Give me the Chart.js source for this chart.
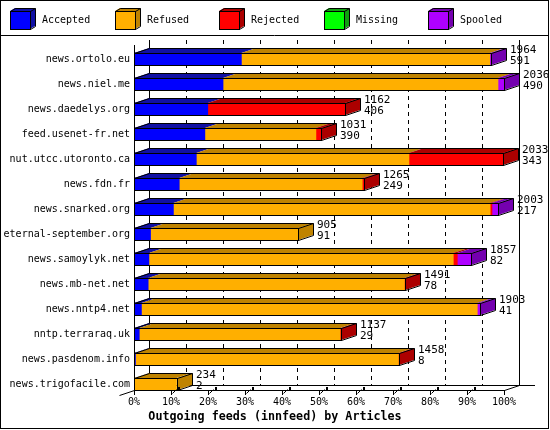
<!DOCTYPE html>
<html>
<head>
<meta charset="utf-8">
<title>Outgoing feeds (innfeed) by Articles</title>
<script src="https://cdn.jsdelivr.net/npm/chart.js@4/dist/chart.umd.min.js"></script>
<style>
  body { margin: 0; background: #fff; }
  canvas { display: block; }
</style>
</head>
<body>
<canvas id="feedChart" width="550" height="430"></canvas>
<script>
/* innfeed outgoing feeds, 3D stacked bars */

// Hosts, top to bottom
const hosts = [
  "news.ortolo.eu", "news.niel.me", "news.daedelys.org", "feed.usenet-fr.net",
  "nut.utcc.utoronto.ca", "news.fdn.fr", "news.snarked.org", "eternal-september.org",
  "news.samoylyk.net", "news.mb-net.net", "news.nntp4.net", "nntp.terraraq.uk",
  "news.pasdenom.info", "news.trigofacile.com"
];

// Articles per host (the two numbers printed next to each bar)
const totals   = [1964, 2036, 1162, 1031, 2033, 1265, 2003, 905, 1857, 1491, 1903, 1137, 1458, 234];
const accepted = [591, 490, 406, 390, 343, 249, 217, 91, 82, 78, 41, 29, 8, 2];

// Remaining segments
const refused  = [1367, 1513, 0, 611, 1170, 1007, 1743, 814, 1675, 1410, 1848, 1105, 1447, 232];
const rejected = [0, 0, 756, 30, 520, 9, 10, 0, 22, 3, 0, 3, 3, 0];
const missing  = [0, 0, 0, 0, 0, 0, 0, 0, 0, 0, 0, 0, 0, 0];
const spooled  = [6, 33, 0, 0, 0, 0, 33, 0, 78, 0, 14, 0, 0, 0];

const seriesNames = ["Accepted", "Refused", "Rejected", "Missing", "Spooled"];
const frontColors = ["#0000FF", "#FFAF00", "#FF0000", "#00FF00", "#AF00FF"];
const sideColors  = ["#1010A4", "#BF8300", "#AC0000", "#10A010", "#7400AF"];

const percentTicks = [0, 10, 20, 30, 40, 50, 60, 70, 80, 90, 100];

const FONT = '"DejaVu Sans Mono", "Liberation Mono", monospace';
const DX = 15;      // depth of the 3D effect
const DY = 5;
const BAR_H = 12;

// bars are scaled against the busiest host
const maxTotal = Math.max(...totals);
const toPercent = (arr) => arr.map((v) => (v ? (v / maxTotal) * 100 : null));

const series = [accepted, refused, rejected, missing, spooled];
const datasets = series.map((arr, i) => ({
  label: seriesNames[i],
  data: toPercent(arr),
  backgroundColor: frontColors[i],
  sideColor: sideColors[i],
  borderWidth: 0,
  barThickness: BAR_H,
}));

function hline(ctx, x0, x1, y) {
  ctx.beginPath();
  ctx.moveTo(x0, Math.round(y) + 0.5);
  ctx.lineTo(x1, Math.round(y) + 0.5);
  ctx.stroke();
}

function vline(ctx, x, y0, y1) {
  ctx.beginPath();
  ctx.moveTo(Math.round(x) + 0.5, y0);
  ctx.lineTo(Math.round(x) + 0.5, y1);
  ctx.stroke();
}

// Back wall, dashed grid and floor, drawn under the bars
const wallPlugin = {
  id: "wall",
  beforeDatasetsDraw(chart) {
    const ctx = chart.ctx;
    const xs = chart.scales.x;
    const ys = chart.scales.y;
    const area = chart.chartArea;
    const floorY = ys.getPixelForValue(hosts.length - 1) + BAR_H / 2;
    const topY = ys.getPixelForValue(0) - BAR_H / 2 - 8;

    ctx.save();
    ctx.strokeStyle = "#000";
    ctx.lineWidth = 1;

    // dashed grid on the back wall
    ctx.setLineDash([4, 4]);
    percentTicks.slice(1, -1).forEach((t) => {
      vline(ctx, xs.getPixelForValue(t) + DX, topY - DY, floorY - DY);
    });
    ctx.setLineDash([]);

    vline(ctx, area.left + DX, topY - DY, floorY - DY);
    vline(ctx, area.right + DX, topY - DY, floorY - DY);
    hline(ctx, area.left + DX, area.right + DX + 16, floorY - DY);
    ctx.restore();
  },

  afterDatasetsDraw(chart) {
    const ctx = chart.ctx;
    const xs = chart.scales.x;
    const ys = chart.scales.y;
    const area = chart.chartArea;
    const floorY = ys.getPixelForValue(hosts.length - 1) + BAR_H / 2;
    const topY = ys.getPixelForValue(0) - BAR_H / 2 - 8;

    ctx.save();
    ctx.strokeStyle = "#000";
    ctx.lineWidth = 1;

    // 3D faces for every bar
    hosts.forEach((host, i) => {
      const segs = [];
      chart.data.datasets.forEach((ds, d) => {
        const el = chart.getDatasetMeta(d).data[i];
        if (!el || ds.data[i] === null) return;
        const p = el.getProps(["x", "y", "base"], true);
        segs.push({ x0: p.base, x1: p.x, y: p.y, side: ds.sideColor });
      });
      if (!segs.length) return;

      const L = Math.round(segs[0].x0);
      const R = Math.round(segs[segs.length - 1].x1);
      const T = Math.round(segs[0].y - BAR_H / 2);
      const B = T + BAR_H;

      // top faces
      segs.forEach((s) => {
        ctx.fillStyle = s.side;
        ctx.beginPath();
        ctx.moveTo(s.x0, T);
        ctx.lineTo(s.x1, T);
        ctx.lineTo(s.x1 + DX, T - DY);
        ctx.lineTo(s.x0 + DX, T - DY);
        ctx.closePath();
        ctx.fill();
      });

      // side face takes the colour of the last segment
      ctx.fillStyle = segs[segs.length - 1].side;
      ctx.beginPath();
      ctx.moveTo(R, T);
      ctx.lineTo(R + DX, T - DY);
      ctx.lineTo(R + DX, B - DY);
      ctx.lineTo(R, B);
      ctx.closePath();
      ctx.fill();

      // outline
      ctx.strokeRect(L + 0.5, T + 0.5, R - L, B - T);
      ctx.beginPath();
      ctx.moveTo(L + 0.5, T + 0.5);
      ctx.lineTo(L + DX + 0.5, T - DY + 0.5);
      ctx.lineTo(R + DX + 0.5, T - DY + 0.5);
      ctx.lineTo(R + DX + 0.5, B - DY + 0.5);
      ctx.lineTo(R + 0.5, B + 0.5);
      ctx.moveTo(R + 0.5, T + 0.5);
      ctx.lineTo(R + DX + 0.5, T - DY + 0.5);
      ctx.stroke();

      // total / accepted
      ctx.fillStyle = "#000";
      ctx.font = "11px " + FONT;
      ctx.textAlign = "left";
      ctx.textBaseline = "middle";
      const cy = segs[0].y;
      ctx.fillText(String(totals[i]), R + DX + 4, cy - 9);
      ctx.fillText(String(accepted[i]), R + DX + 4, cy + 2);
    });

    // front edges and floor
    vline(ctx, area.left, topY, floorY);
    hline(ctx, area.left, area.right + 1, floorY);
    ctx.beginPath();
    ctx.moveTo(area.right + 0.5, floorY + 0.5);
    ctx.lineTo(area.right + DX + 0.5, floorY - DY + 0.5);
    ctx.moveTo(area.left + 0.5, floorY + 0.5);
    ctx.lineTo(area.left - DX + 0.5, floorY + DY + 0.5);
    ctx.stroke();

    // little perspective ticks under the floor
    ctx.fillStyle = "#000";
    percentTicks.forEach((t, k) => {
      const px = Math.round(xs.getPixelForValue(t));
      vline(ctx, px, floorY, floorY + 5);
      if (k > 0 && k < percentTicks.length - 1) {
        ctx.beginPath();
        ctx.moveTo(px + 1.5, floorY + 3.5);
        ctx.lineTo(px + 5.5, floorY - 0.5);
        ctx.stroke();
        ctx.fillRect(px + 7, floorY - 3, 2, 3);
      }
    });
    ctx.restore();
  },

  afterDraw(chart) {
    const ctx = chart.ctx;
    ctx.save();
    ctx.strokeStyle = "#000";
    ctx.lineWidth = 1;

    // legend with small cubes
    chart.data.datasets.forEach((ds, i) => {
      const x0 = 10 + Math.round(104.5 * i);
      const y0 = 11;
      const w = 20, h = 18, dx = 5, dy = 3;
      ctx.fillStyle = ds.sideColor;
      ctx.beginPath();
      ctx.moveTo(x0, y0);
      ctx.lineTo(x0 + dx, y0 - dy);
      ctx.lineTo(x0 + w + dx, y0 - dy);
      ctx.lineTo(x0 + w + dx, y0 + h - dy);
      ctx.lineTo(x0 + w, y0 + h);
      ctx.lineTo(x0 + w, y0);
      ctx.closePath();
      ctx.fill();
      ctx.fillStyle = ds.backgroundColor;
      ctx.fillRect(x0, y0, w, h);

      ctx.strokeRect(x0 + 0.5, y0 + 0.5, w, h);
      ctx.beginPath();
      ctx.moveTo(x0 + 0.5, y0 + 0.5);
      ctx.lineTo(x0 + dx + 0.5, y0 - dy + 0.5);
      ctx.lineTo(x0 + w + dx + 0.5, y0 - dy + 0.5);
      ctx.lineTo(x0 + w + dx + 0.5, y0 + h - dy + 0.5);
      ctx.lineTo(x0 + w + 0.5, y0 + h + 0.5);
      ctx.moveTo(x0 + w + 0.5, y0 + 0.5);
      ctx.lineTo(x0 + w + dx + 0.5, y0 - dy + 0.5);
      ctx.stroke();

      ctx.fillStyle = "#000";
      ctx.font = "10px " + FONT;
      ctx.textAlign = "left";
      ctx.textBaseline = "middle";
      ctx.fillText(ds.label, x0 + 32, 20);
    });

    // frame and legend separator
    ctx.strokeRect(0.5, 0.5, 548, 428);
    hline(ctx, 0, 549, 35);
    ctx.restore();
  },
};

Chart.defaults.color = "#000";
Chart.defaults.font.family = FONT;

new Chart(document.getElementById("feedChart"), {
  type: "bar",
  data: { labels: hosts, datasets: datasets },
  options: {
    indexAxis: "y",
    responsive: false,
    animation: false,
    events: [],
    devicePixelRatio: 1,
    layout: { padding: { top: 46.5, bottom: 5.96, left: 0, right: 0 } },
    plugins: {
      legend: { display: false },
      tooltip: { enabled: false },
      title: {
        display: true,
        position: "bottom",
        text: "Outgoing feeds (innfeed) by Articles",
        color: "#000",
        font: { family: FONT, size: 11.7, weight: "bold" },
        padding: { top: 1.5, bottom: 0 },
      },
    },
    scales: {
      x: {
        stacked: true,
        min: 0,
        max: 100,
        grid: { display: false, drawTicks: false },
        border: { display: false },
        ticks: {
          stepSize: 10,
          padding: 0,
          autoSkip: false,
          maxRotation: 0,
          font: { size: 10 },
          callback: (v) => v + "%",
        },
        afterFit: (s) => { s.height = 12; },
      },
      y: {
        stacked: true,
        grid: { display: false, drawTicks: false },
        border: { display: false },
        ticks: { padding: 4, font: { size: 10 } },
        afterFit: (s) => { s.width = 134; },
      },
      y2: {
        type: "linear",
        position: "right",
        grid: { display: false, drawTicks: false },
        border: { display: false },
        ticks: { display: false },
        afterFit: (s) => { s.width = 46; },
      },
    },
  },
  plugins: [wallPlugin],
});
</script>
</body>
</html>
